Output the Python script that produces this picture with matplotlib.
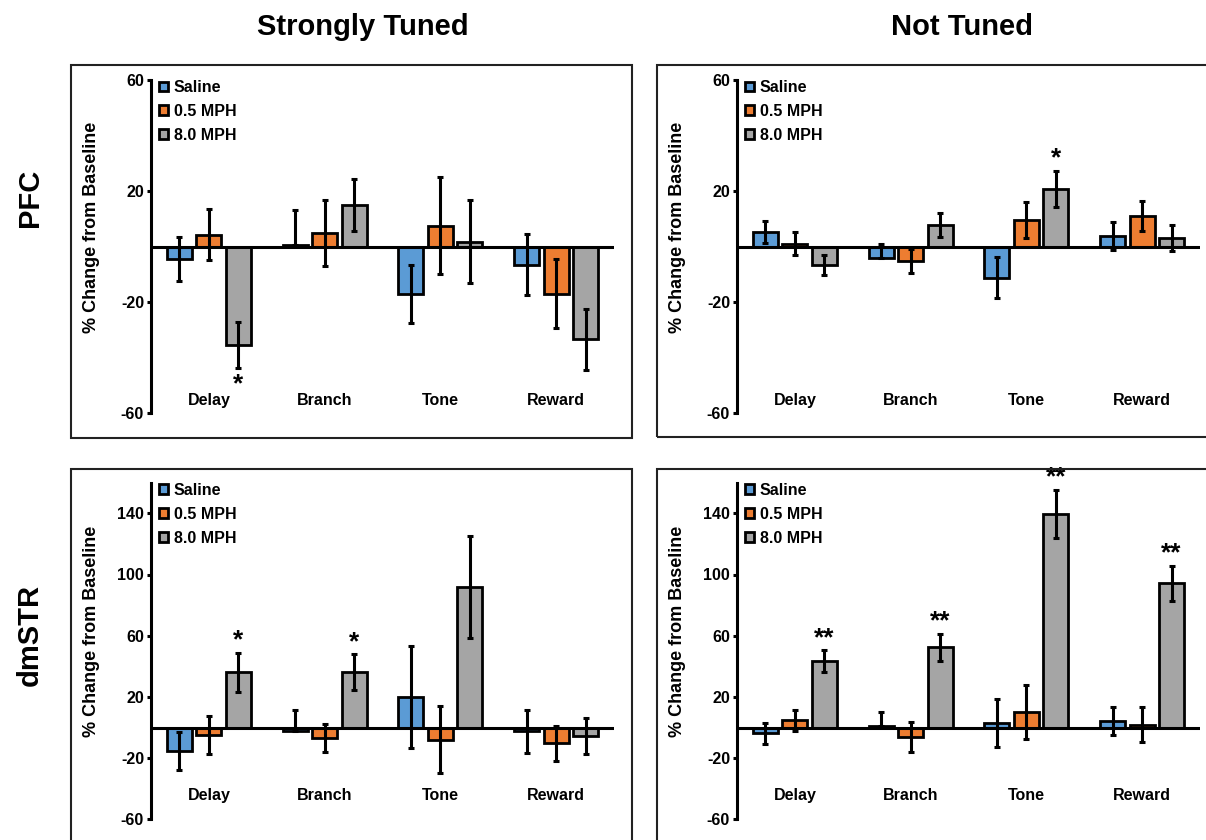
import matplotlib.pyplot as plt
from matplotlib.patches import Patch, Rectangle

plt.rcParams['font.family'] = ['Liberation Sans', 'DejaVu Sans']
plt.rcParams['font.weight'] = 'bold'
plt.rcParams['axes.unicode_minus'] = False

categories = ['Delay', 'Branch', 'Tone', 'Reward']
groups = ['Saline', '0.5 MPH', '8.0 MPH']
colors = ['#5B9BD5', '#ED7D31', '#A5A5A5']

# PFC, strongly tuned
pfc_strong_means = [[-4.4, 0.5, -17.0, -6.6],
                    [4.2, 4.8, 7.5, -17.0],
                    [-35.5, 14.9, 1.8, -33.4]]
pfc_strong_err = [[8.0, 12.5, 10.4, 11.0],
                  [9.2, 12.0, 17.5, 12.5],
                  [8.4, 9.3, 15.0, 11.0]]
pfc_strong_sig = ['*', '', '', '']

# PFC, not tuned
pfc_not_means = [[5.1, -4.2, -11.2, 3.9],
                 [1.0, -5.2, 9.6, 11.1],
                 [-6.6, 7.8, 20.7, 3.0]]
pfc_not_err = [[4.0, 5.0, 7.4, 5.1],
               [4.2, 4.2, 6.6, 5.4],
               [3.7, 4.4, 6.6, 4.7]]
pfc_not_sig = ['', '', '*', '']

# dmSTR, strongly tuned
str_strong_means = [[-15.3, -2.0, 19.8, -2.6],
                    [-4.8, -7.0, -8.0, -10.2],
                    [36.2, 36.2, 91.7, -5.4]]
str_strong_err = [[12.3, 13.5, 33.5, 14.0],
                  [12.4, 9.3, 22.0, 11.4],
                  [12.7, 11.7, 33.4, 11.9]]
str_strong_sig = ['*', '*', '', '']

# dmSTR, not tuned
str_not_means = [[-3.7, 0.8, 2.8, 4.4],
                 [4.6, -6.3, 10.0, 1.7],
                 [43.6, 52.3, 139.7, 94.3]]
str_not_err = [[6.9, 9.5, 15.7, 9.3],
               [6.9, 9.6, 17.8, 11.5],
               [7.1, 9.0, 15.8, 11.4]]
str_not_sig = ['**', '**', '**', '**']

# saline Branch error bars only show the upper half in the original
upper_only = [(0, 1)]

W, H = 1206, 840
fig = plt.figure(figsize=(W / 100, H / 100), dpi=100)


def px_rect(x0, y0, x1, y1):
    # pixel box (top-left origin) -> figure fraction
    return [x0 / W, 1 - y1 / H, (x1 - x0) / W, (y1 - y0) / H]


def panel(rect, means, errs, sig, ylim, yticks, label_y):
    ax = fig.add_axes(rect)
    x = list(range(len(categories)))
    offs = [-0.255, 0, 0.255]
    for i in range(3):
        xs = [xx + offs[i] for xx in x]
        lo = [0 if (i, j) in upper_only else e for j, e in enumerate(errs[i])]
        ax.bar(xs, means[i], 0.215, color=colors[i], edgecolor='black',
               linewidth=2.0, zorder=2)
        ax.errorbar(xs, means[i], yerr=[lo, errs[i]], fmt='none',
                    ecolor='black', elinewidth=2.2, capsize=2.2,
                    capthick=2.2, zorder=3)
    for j, s in enumerate(sig):
        if not s:
            continue
        v = means[2][j]
        if v >= 0:
            ax.annotate(s, (j + offs[2], v + errs[2][j]), xytext=(0, 0),
                        textcoords='offset points', ha='center',
                        va='bottom', fontsize=19, annotation_clip=False)
        else:
            ax.annotate(s, (j + offs[2], v - errs[2][j]), xytext=(0, -3),
                        textcoords='offset points', ha='center',
                        va='top', fontsize=19, annotation_clip=False)
    ax.axhline(0, color='black', lw=2.2, zorder=4)
    ax.set_xlim(-0.5, 3.5)
    ax.set_ylim(*ylim)
    ax.set_yticks(yticks)
    ax.set_xticks([])
    for side in ['top', 'right', 'bottom']:
        ax.spines[side].set_visible(False)
    ax.spines['left'].set_linewidth(2.2)
    ax.tick_params(axis='y', direction='out', length=3, width=2.2,
                   pad=2, labelsize=11.5)
    for t in ax.get_yticklabels():
        t.set_fontweight('bold')
    for j, c in enumerate(categories):
        ax.text(j, label_y, c, transform=ax.get_xaxis_transform(),
                ha='center', va='center', fontsize=11.5, fontweight='bold')
    ax.set_ylabel('% Change from Baseline', fontsize=13, fontweight='bold')
    ax.yaxis.set_label_coords(-0.110, 0.558)
    leg = ax.legend(handles=[Patch(facecolor=colors[i], edgecolor='black',
                                   linewidth=2.0, label=groups[i])
                             for i in range(3)],
                    loc='upper left', bbox_to_anchor=(0.018, 1.0),
                    frameon=False, fontsize=11.5, handlelength=0.55,
                    handleheight=0.55, handletextpad=0.35,
                    labelspacing=0.56, borderpad=0, borderaxespad=0)
    for t in leg.get_texts():
        t.set_fontweight('bold')
    return ax


panel(px_rect(151, 80, 614, 413), pfc_strong_means, pfc_strong_err,
      pfc_strong_sig, (-60, 60), [-60, -20, 20, 60], 0.039)
panel(px_rect(737, 80, 1200, 413), pfc_not_means, pfc_not_err,
      pfc_not_sig, (-60, 60), [-60, -20, 20, 60], 0.039)
panel(px_rect(151, 482.7, 614, 819.3), str_strong_means, str_strong_err,
      str_strong_sig, (-60, 160), [-60, -20, 20, 60, 100, 140], 0.072)
panel(px_rect(737, 482.7, 1200, 819.3), str_not_means, str_not_err,
      str_not_sig, (-60, 160), [-60, -20, 20, 60, 100, 140], 0.072)

# boxes around each panel (the right and lower ones run off the edge)
for box in [(71, 65, 632, 438), (657, 65, 1260, 437),
            (71, 469, 632, 900), (657, 469, 1260, 900)]:
    r = px_rect(*box)
    fig.add_artist(Rectangle((r[0], r[1]), r[2], r[3],
                             transform=fig.transFigure, fill=False,
                             lw=1.5, edgecolor='#222222'))

fig.text(363 / W, 1 - 27 / H, 'Strongly Tuned', ha='center', va='center',
         fontsize=21, fontweight='bold')
fig.text(962 / W, 1 - 27 / H, 'Not Tuned', ha='center', va='center',
         fontsize=21, fontweight='bold')
fig.text(30 / W, 1 - 198 / H, 'PFC', ha='center', va='center',
         rotation=90, fontsize=21, fontweight='bold')
fig.text(30 / W, 1 - 635 / H, 'dmSTR', ha='center', va='center',
         rotation=90, fontsize=21, fontweight='bold')

fig.savefig('out.png', dpi=100)
